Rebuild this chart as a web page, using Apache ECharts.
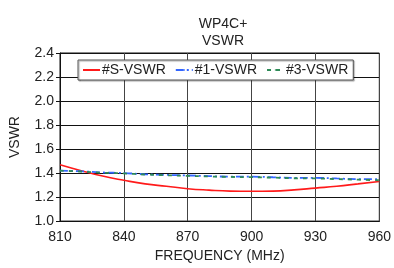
<!DOCTYPE html>
<html>
<head>
<meta charset="utf-8">
<script src="https://cdn.jsdelivr.net/npm/echarts@6.0.0/dist/echarts.min.js"></script>
<style>
  html, body { margin: 0; padding: 0; background: #fff; }
  #chart { width: 394px; height: 268px; }
</style>
</head>
<body>
<div id="chart"></div>
<script>
// frequencies in MHz
var freqs = [810, 820, 830, 840, 850, 860, 870, 880, 890, 900, 910, 920, 930, 940, 950, 960];
var sVswr = [1.47, 1.42, 1.375, 1.34, 1.31, 1.29, 1.27, 1.258, 1.25, 1.248, 1.25, 1.26, 1.275, 1.29, 1.31, 1.33];
var vswr1 = [1.42, 1.415, 1.405, 1.40, 1.39, 1.385, 1.38, 1.375, 1.37, 1.37, 1.365, 1.36, 1.36, 1.355, 1.35, 1.35];
var vswr3 = [1.42, 1.413, 1.403, 1.397, 1.388, 1.382, 1.377, 1.372, 1.368, 1.366, 1.362, 1.357, 1.355, 1.35, 1.345, 1.34];

function pairs(ys) {
  return freqs.map(function (f, i) { return [f, ys[i]]; });
}

var font = "'Liberation Sans', Arial, sans-serif";
var chart = echarts.init(document.getElementById("chart"), null, { renderer: "canvas" });

chart.setOption({
  animation: false,
  title: {
    text: "WP4C+\nVSWR",
    left: 218, top: 11, textAlign: "center",
    textStyle: { fontFamily: font, fontSize: 14, fontWeight: "normal", color: "#222", lineHeight: 17 }
  },
  legend: {
    left: 78, top: 60,
    itemGap: 9, itemWidth: 17, itemHeight: 2,
    padding: [3, 5, 3, 4],
    borderColor: "#555", borderWidth: 1, backgroundColor: "#fff",
    shadowColor: "rgba(0,0,0,0.35)", shadowOffsetX: 1, shadowOffsetY: 1, shadowBlur: 1,
    textStyle: { fontFamily: font, fontSize: 14, color: "#222", padding: [0, 0, 0, -3] },
    data: ["#S-VSWR", "#1-VSWR", "#3-VSWR"]
  },
  grid: { left: 55, right: 12, top: 53, bottom: 43, show: true, borderColor: "#111", borderWidth: 1 },
  xAxis: {
    type: "value", min: 810, max: 960, interval: 30,
    name: "FREQUENCY (MHz)", nameLocation: "middle", nameGap: 23,
    nameTextStyle: { fontFamily: font, fontSize: 14, color: "#222" },
    axisLine: { lineStyle: { color: "#111" } },
    axisTick: { show: false },
    axisLabel: { fontFamily: font, fontSize: 14, color: "#222", margin: 9 },
    splitLine: { show: true, lineStyle: { color: "#444", width: 1 } }
  },
  yAxis: {
    type: "value", min: 1.0, max: 2.4, interval: 0.2,
    name: "VSWR", nameLocation: "middle", nameGap: 38,
    nameTextStyle: { fontFamily: font, fontSize: 14, color: "#222" },
    axisLine: { show: true, lineStyle: { color: "#111" } },
    axisTick: { show: true, length: 4, inside: false, lineStyle: { color: "#111" } },
    axisLabel: { fontFamily: font, fontSize: 14, color: "#222", margin: 6,
      formatter: function (v) { return v.toFixed(1); } },
    splitLine: { show: true, lineStyle: { color: "#111", width: 1 } }
  },
  series: [
    { name: "#S-VSWR", type: "line", smooth: true, showSymbol: false, symbol: "none",
      data: pairs(sVswr), lineStyle: { color: "#ff1a1a", width: 1.6 }, itemStyle: { color: "#ff1a1a" } },
    { name: "#1-VSWR", type: "line", smooth: true, showSymbol: false, symbol: "none",
      data: pairs(vswr1), lineStyle: { color: "#3366ff", width: 1.8, type: [8, 3, 2, 3] }, itemStyle: { color: "#3366ff" } },
    { name: "#3-VSWR", type: "line", smooth: true, showSymbol: false, symbol: "none",
      data: pairs(vswr3), lineStyle: { color: "#2e8b57", width: 1.8, type: [4, 5] }, itemStyle: { color: "#2e8b57" } }
  ]
});
</script>
</body>
</html>
